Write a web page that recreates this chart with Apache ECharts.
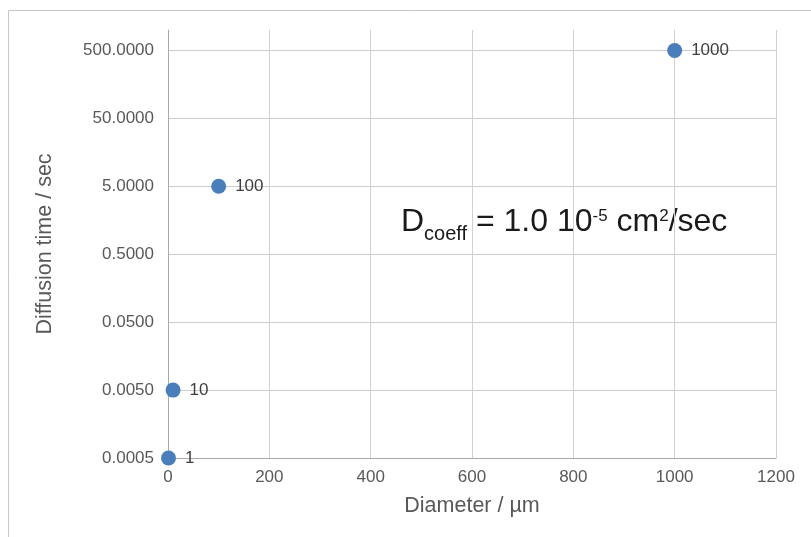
<!DOCTYPE html>
<html>
<head>
<meta charset="utf-8">
<title>Diffusion time vs diameter</title>
<script src="https://cdn.jsdelivr.net/npm/echarts@6/dist/echarts.min.js"></script>
<style>
    html, body {
        margin: 0;
        padding: 0;
        background: #ffffff;
    }
    #main {
        width: 811px;
        height: 537px;
    }
</style>
</head>
<body>
<div id="main"></div>
<script>
// data
var diameters = [1, 10, 100, 1000];              // µm
var diffusionTimes = [0.0005, 0.005, 5, 500];    // sec
var pointLabels = ['1', '10', '100', '1000'];
var xTicks = [0, 200, 400, 600, 800, 1000, 1200];
var yTickLabels = ['0.0005', '0.0050', '0.0500', '0.5000', '5.0000', '50.0000', '500.0000'];
var yBase = 0.0005;   // bottom of the log axis
var yTop = 1000;      // top of the log axis

// log axis drawn as decades above yBase
function toDecades(v) {
    return Math.log10(v / yBase);
}

var chartDom = document.getElementById('main');
var myChart = echarts.init(chartDom);
var option;

var points = diameters.map(function (d, i) {
    return { value: [d, toDecades(diffusionTimes[i])], label: pointLabels[i] };
});

var font = 'Liberation Sans, Arial, sans-serif';

option = {
    animation: false,
    textStyle: {
        fontFamily: font
    },
    grid: {
        left: 168,
        right: 35,
        top: 30,
        bottom: 79
    },
    xAxis: {
        type: 'value',
        min: xTicks[0],
        max: xTicks[xTicks.length - 1],
        interval: 200,
        name: 'Diameter / µm',
        nameLocation: 'middle',
        nameGap: 37,
        nameTextStyle: {
            fontSize: 21.5,
            color: '#595959'
        },
        axisLine: { show: true, lineStyle: { color: '#aaaaaa' } },
        axisTick: { show: false },
        axisLabel: {
            fontSize: 17,
            color: '#595959',
            margin: 11,
            formatter: function (v) {
                return String(v);
            }
        },
        splitLine: { show: true, lineStyle: { color: '#d0d0d0' } }
    },
    yAxis: {
        type: 'value',
        min: 0,
        max: toDecades(yTop),
        interval: 1,
        name: 'Diffusion time / sec',
        nameLocation: 'middle',
        nameGap: 112,
        nameTextStyle: {
            fontSize: 21.5,
            color: '#595959'
        },
        axisLine: { show: true, lineStyle: { color: '#aaaaaa' } },
        axisTick: { show: false },
        axisLabel: {
            fontSize: 17,
            color: '#595959',
            margin: 14,
            showMaxLabel: false,
            formatter: function (v) {
                return Number.isInteger(v) ? yTickLabels[v] : '';
            }
        },
        splitLine: { show: true, showMaxLine: false, lineStyle: { color: '#cccccc' } }
    },
    series: [
        {
            type: 'scatter',
            symbolSize: 15,
            itemStyle: { color: '#4a7ebb', opacity: 1 },
            label: {
                show: true,
                position: 'right',
                distance: 9,
                fontSize: 17,
                color: '#404040',
                formatter: function (p) {
                    return p.data.label;
                }
            },
            data: points
        }
    ],
    graphic: [
        {
            type: 'polyline',
            silent: true,
            shape: { points: [[8.5, 537], [8.5, 10.5], [811, 10.5]] },
            style: { stroke: '#c8c8c8', lineWidth: 1, fill: null }
        },
        {
            type: 'text',
            left: 401,
            top: 200,
            silent: true,
            style: {
                text: '{m|D}{sub|coeff}{m| = 1.0 10}{sup|-5}{m| cm}{sup|2}{m|/sec}',
                fill: '#1a1a1a',
                rich: {
                    m: { fontSize: 32, lineHeight: 44, fill: '#1a1a1a', fontFamily: font },
                    sub: { fontSize: 20, lineHeight: 20, verticalAlign: 'bottom', fill: '#1a1a1a', fontFamily: font },
                    sup: { fontSize: 17, lineHeight: 17, verticalAlign: 'top', padding: [8, 0, 0, 0], fill: '#1a1a1a', fontFamily: font }
                }
            }
        }
    ]
};

option && myChart.setOption(option);
</script>
</body>
</html>
